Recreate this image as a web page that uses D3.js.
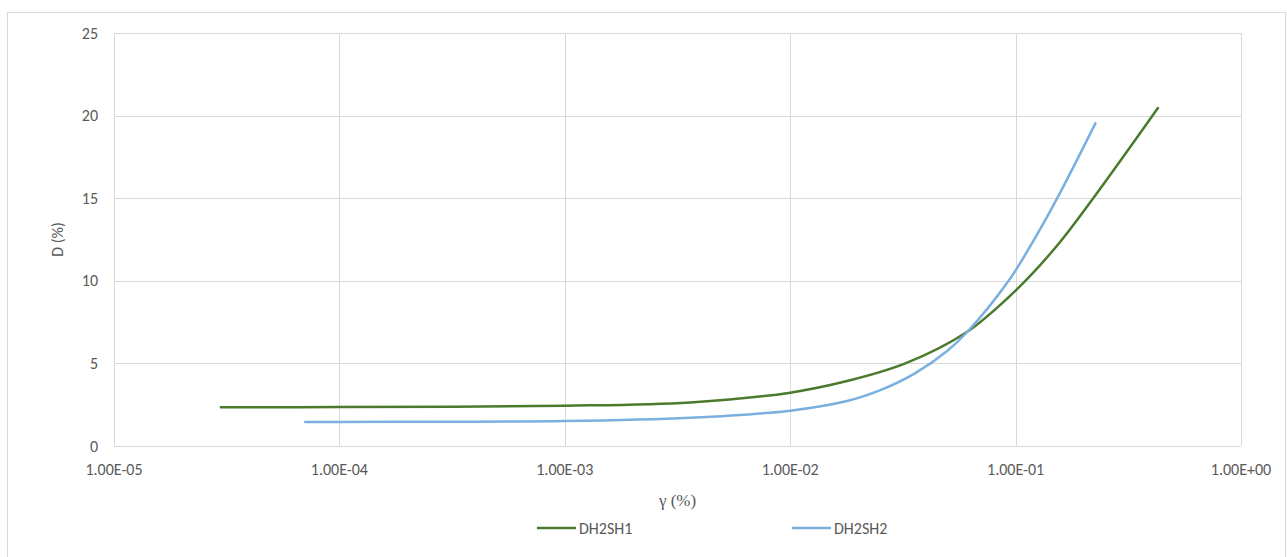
<!DOCTYPE html>
<html>
<head>
<meta charset="utf-8">
<script src="https://cdn.jsdelivr.net/npm/d3@7"></script>
<style>
  body { margin: 0; background: #fff; }
  svg { display: block; }
</style>
</head>
<body>
<div id="chart"></div>
<script>
// series: [gamma (%), D (%)]
const dh2sh1 = [
  [2.98e-5, 2.34], [1e-4, 2.36], [1e-3, 2.44], [3.6e-3, 2.64], [1e-2, 3.23],
  [0.01787, 3.93], [0.0324, 5.0], [0.061, 6.92], [0.1005, 9.44], [0.15, 12.0],
  [0.221, 15.0], [0.428, 20.46]
];
const dh2sh2 = [
  [7.05e-5, 1.45], [1e-4, 1.46], [1e-3, 1.51], [3.6e-3, 1.71], [1e-2, 2.14],
  [0.01787, 2.72], [0.0251, 3.38], [0.0353, 4.35], [0.0497, 5.75], [0.061, 6.9],
  [0.0931, 10.0], [0.1221, 12.6], [0.153, 15.0], [0.226, 19.53]
];
const seriesNames = ['DH2SH1', 'DH2SH2'];
const seriesColors = ['#4b7a2c', '#7aafe0'];
const xTicks = [1e-5, 1e-4, 1e-3, 1e-2, 1e-1, 1e0];
const xTickLabels = ['1.00E-05', '1.00E-04', '1.00E-03', '1.00E-02', '1.00E-01', '1.00E+00'];
const yTicks = [0, 5, 10, 15, 20, 25];

const W = 1287, H = 557;
const plot = { left: 114, top: 33, right: 1241, bottom: 446 };
const sans = "Calibri, Carlito, 'Open Sans', 'Noto Sans', sans-serif";

const svg = d3.select('#chart').append('svg')
  .attr('width', W)
  .attr('height', H);

// chart frame
svg.append('rect')
  .attr('x', 7.5).attr('y', 12.5)
  .attr('width', 1278).attr('height', 570)
  .attr('fill', '#fff')
  .attr('stroke', '#d9d9d9');

const x = d3.scaleLog().domain([1e-5, 1]).range([plot.left, plot.right]);
const y = d3.scaleLinear().domain([0, 25]).range([plot.bottom, plot.top]);

// grid lines
svg.append('g')
  .selectAll('line')
  .data(yTicks)
  .enter().append('line')
  .attr('x1', plot.left).attr('x2', plot.right)
  .attr('y1', d => Math.round(y(d)) + 0.5).attr('y2', d => Math.round(y(d)) + 0.5)
  .attr('stroke', '#d9d9d9');

svg.append('g')
  .selectAll('line')
  .data(xTicks)
  .enter().append('line')
  .attr('x1', d => Math.round(x(d)) + 0.5).attr('x2', d => Math.round(x(d)) + 0.5)
  .attr('y1', plot.top).attr('y2', plot.bottom)
  .attr('stroke', '#d9d9d9');

// y tick labels
svg.append('g')
  .selectAll('text')
  .data(yTicks)
  .enter().append('text')
  .attr('x', 98)
  .attr('y', d => y(d))
  .attr('dy', '0.35em')
  .attr('text-anchor', 'end')
  .attr('font-family', sans)
  .attr('font-size', 16)
  .attr('fill', '#595959')
  .text(d => d);

// x tick labels
svg.append('g')
  .selectAll('text')
  .data(xTicks)
  .enter().append('text')
  .attr('x', d => x(d))
  .attr('y', 469)
  .attr('dy', '0.35em')
  .attr('text-anchor', 'middle')
  .attr('font-family', sans)
  .attr('font-size', 16)
  .attr('fill', '#595959')
  .text((d, i) => xTickLabels[i]);

// axis titles
svg.append('text')
  .attr('transform', `translate(57,${(plot.top + plot.bottom) / 2}) rotate(-90)`)
  .attr('dy', '0.35em')
  .attr('text-anchor', 'middle')
  .attr('font-family', sans)
  .attr('font-size', 16)
  .attr('fill', '#595959')
  .text('D (%)');

svg.append('text')
  .attr('x', (plot.left + plot.right) / 2)
  .attr('y', 500)
  .attr('dy', '0.35em')
  .attr('text-anchor', 'middle')
  .attr('font-family', "'Liberation Serif', 'DejaVu Serif', serif")
  .attr('font-size', 17)
  .attr('fill', '#595959')
  .text('γ (%)');

// curves
const line = d3.line()
  .x(d => x(d[0]))
  .y(d => y(d[1]))
  .curve(d3.curveCatmullRom.alpha(0.5));

svg.append('g')
  .selectAll('path')
  .data([dh2sh1, dh2sh2])
  .enter().append('path')
  .attr('d', line)
  .attr('fill', 'none')
  .attr('stroke', (d, i) => seriesColors[i])
  .attr('stroke-width', 2.5)
  .attr('stroke-linecap', 'round');

// legend
const legendX = [537, 792];
const legend = svg.append('g')
  .selectAll('g')
  .data(seriesNames)
  .enter().append('g')
  .attr('transform', (d, i) => `translate(${legendX[i]},528)`);

legend.append('line')
  .attr('x1', 0).attr('x2', 39)
  .attr('stroke', (d, i) => seriesColors[i])
  .attr('stroke-width', 2.5);

legend.append('text')
  .attr('x', 42)
  .attr('dy', '0.35em')
  .attr('font-family', sans)
  .attr('font-size', 16)
  .attr('fill', '#595959')
  .text(d => d);
</script>
</body>
</html>
